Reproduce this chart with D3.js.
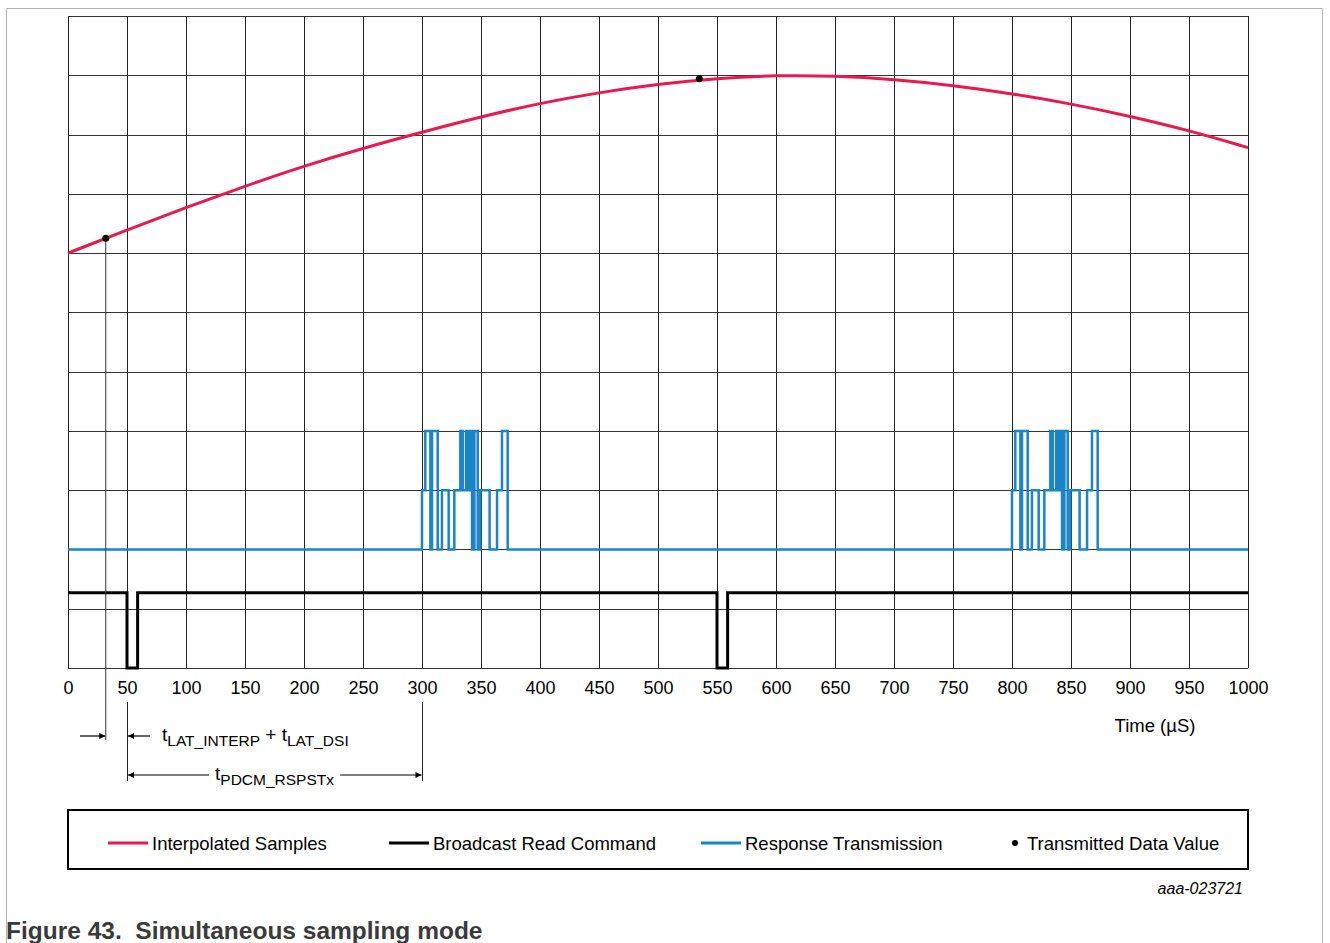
<!DOCTYPE html>
<html>
<head>
<meta charset="utf-8">
<script src="https://cdn.jsdelivr.net/npm/d3@7"></script>
<style>
body { margin: 0; background: #fff; }
text { font-family: "Liberation Sans", Arial, sans-serif; }
</style>
</head>
<body>
<div id="chart"></div>
<script>
var width = 1330;
var height = 943;

// axis ticks (time, µS) and horizontal grid rows
var xTicks = [0, 50, 100, 150, 200, 250, 300, 350, 400, 450, 500, 550, 600, 650, 700, 750, 800, 850, 900, 950, 1000];
var gridRows = [0, 1, 2, 3, 4, 5, 6, 7, 8, 9, 10, 11];

// interpolated samples (red curve)
var sampleTime  = [0, 50, 100, 150, 200, 250, 300, 350, 400, 450, 500, 550, 600, 650, 700, 750, 800, 850, 900, 950, 1000];
var sampleValue = [7.0, 7.39, 7.77, 8.13, 8.47, 8.77, 9.04, 9.3, 9.53, 9.71, 9.85, 9.95, 10.0, 9.99, 9.93, 9.83, 9.69, 9.52, 9.31, 9.07, 8.78];

// transmitted data values (dots)
var dotTime  = [32, 535];
var dotValue = [7.25, 9.94];

// broadcast read command (black)
var cmdTime  = [0, 50, 59, 550, 559, 1000];
var cmdValue = [1.27, 0, 1.27, 0, 1.27, 1.27];

// response transmission (blue): idle level + two identical bursts
var idleLevel = 2;
var burstStart = [300, 800];
var burstOffset = [0, 2.8, 7.1, 8.5, 13.3, 16.9, 22.6, 27.4, 32.5, 34.5, 37.3, 39, 41, 42.4, 44.4, 47.2, 49.4, 57.3, 63.6, 67.8, 72.6];
var burstLevel  = [3, 4, 2, 4, 2, 3, 2, 3, 4, 3, 4, 3, 4, 2, 4, 2, 3, 2, 3, 4, 2];

var legendNames = ["Interpolated Samples", "Broadcast Read Command", "Response Transmission", "Transmitted Data Value"];
var legendColors = ["#e8194f", "#000", "#1a84c6", "#000"];

var svg = d3.select("#chart").append("svg")
  .attr("width", width)
  .attr("height", height);

var x = d3.scaleLinear().domain([0, 1000]).range([68, 1248]);
var y = d3.scaleLinear().domain([0, 11]).range([668, 16]);

// figure frame
svg.append("path")
  .attr("d", "M6.5,943V8.5H1322.5V943")
  .attr("fill", "none")
  .attr("stroke", "#b4b4b4")
  .attr("stroke-width", 1);

// grid
var grid = svg.append("g");
grid.selectAll("line.v")
  .data(xTicks)
  .join("line")
    .attr("class", "v")
    .attr("x1", d => Math.round(x(d)) + 0.5)
    .attr("x2", d => Math.round(x(d)) + 0.5)
    .attr("y1", y(11))
    .attr("y2", y(0))
    .attr("stroke", "#222")
    .attr("stroke-width", 1);
grid.selectAll("line.h")
  .data(gridRows)
  .join("line")
    .attr("class", "h")
    .attr("x1", x(0))
    .attr("x2", x(1000))
    .attr("y1", d => Math.round(y(d)) + 0.5)
    .attr("y2", d => Math.round(y(d)) + 0.5)
    .attr("stroke", "#333")
    .attr("stroke-width", 1);

// x axis labels
var xAxis = d3.axisBottom(x).tickValues(xTicks).tickFormat(d3.format("d")).tickSize(0).tickPadding(13);
var ax = svg.append("g")
  .attr("transform", "translate(0," + y(0) + ")")
  .call(xAxis);
ax.select(".domain").remove();
ax.selectAll("text")
  .attr("font-family", "Liberation Sans, Arial, sans-serif")
  .attr("font-size", 18)
  .attr("fill", "#000");

svg.append("text")
  .attr("x", 1155)
  .attr("y", 732)
  .attr("text-anchor", "middle")
  .attr("font-size", 18.5)
  .text("Time (µS)");

// red curve
var samples = sampleTime.map((t, i) => [t, sampleValue[i]]);
svg.append("path")
  .datum(samples)
  .attr("fill", "none")
  .attr("stroke", legendColors[0])
  .attr("stroke-width", 3)
  .attr("d", d3.line().x(d => x(d[0])).y(d => y(d[1])).curve(d3.curveBasis));

// black command line
var cmd = cmdTime.map((t, i) => [t, cmdValue[i]]);
svg.append("path")
  .datum(cmd)
  .attr("fill", "none")
  .attr("stroke", "#000")
  .attr("stroke-width", 3)
  .attr("d", d3.line().x(d => x(d[0])).y(d => y(d[1])).curve(d3.curveStepAfter));

// blue response line
var resp = [[0, idleLevel]];
burstStart.forEach(function(s) {
  burstOffset.forEach(function(o, i) {
    resp.push([s + o, burstLevel[i]]);
  });
});
resp.push([1000, idleLevel]);
svg.append("path")
  .datum(resp)
  .attr("fill", "none")
  .attr("stroke", legendColors[2])
  .attr("stroke-width", 2.5)
  .attr("d", d3.line().x(d => x(d[0])).y(d => y(d[1])).curve(d3.curveStepAfter));

// annotation lines
var annY1 = 736, annY2 = 775;
svg.append("line")
  .attr("x1", x(dotTime[0])).attr("x2", x(dotTime[0]))
  .attr("y1", y(dotValue[0])).attr("y2", 740)
  .attr("stroke", "#333").attr("stroke-width", 1);
[50, 300].forEach(function(t) {
  svg.append("line")
    .attr("x1", Math.round(x(t)) + 0.5).attr("x2", Math.round(x(t)) + 0.5)
    .attr("y1", 702).attr("y2", 781)
    .attr("stroke", "#222").attr("stroke-width", 1);
});

// dots
svg.selectAll("circle.dot")
  .data(dotTime)
  .join("circle")
    .attr("class", "dot")
    .attr("cx", d => x(d))
    .attr("cy", (d, i) => y(dotValue[i]))
    .attr("r", 3.5)
    .attr("fill", "#000");

// arrows
var defs = svg.append("defs");
defs.append("marker")
  .attr("id", "arr")
  .attr("viewBox", "0 0 10 10")
  .attr("refX", 10).attr("refY", 5)
  .attr("markerWidth", 11).attr("markerHeight", 6)
  .attr("markerUnits", "userSpaceOnUse")
  .attr("orient", "auto")
  .append("path").attr("d", "M0,0L10,5L0,10z").attr("fill", "#000");

function arrow(x1, x2, yy) {
  svg.append("line")
    .attr("x1", x1).attr("x2", x2)
    .attr("y1", yy).attr("y2", yy)
    .attr("stroke", "#000").attr("stroke-width", 1.2)
    .attr("marker-end", "url(#arr)");
}

function subText(xx, yy, parts, anchor) {
  var t = svg.append("text")
    .attr("x", xx).attr("y", yy)
    .attr("font-size", 19)
    .attr("text-anchor", anchor || "start");
  parts.forEach(function(p) {
    if (p.sub) {
      t.append("tspan").attr("font-size", 15.5).attr("dy", 5).text(p.s);
    } else {
      t.append("tspan").attr("dy", p.after ? -5 : 0).text(p.s);
    }
  });
  return t;
}

arrow(80, x(dotTime[0]) - 0.5, annY1);
arrow(150, x(50) + 1, annY1);
subText(162, annY1 + 5, [
  {s: "t"}, {s: "LAT_INTERP", sub: true}, {s: "\u00a0+\u00a0", after: true}, {s: "t"}, {s: "LAT_DSI", sub: true}
]);

var t2 = subText((x(50) + x(300)) / 2, annY2 + 5, [{s: "t"}, {s: "PDCM_RSPSTx", sub: true}], "middle");
var bb = t2.node().getBBox();
arrow(bb.x - 6, x(50) + 1, annY2);
arrow(bb.x + bb.width + 6, x(300) - 0.5, annY2);

// legend
svg.append("rect")
  .attr("x", 68).attr("y", 810)
  .attr("width", 1180).attr("height", 59)
  .attr("fill", "none")
  .attr("stroke", "#000")
  .attr("stroke-width", 2);

var legX = [108, 389, 701, 1015];
var legY = 843;
var leg = svg.append("g");
legendNames.forEach(function(name, i) {
  var g = leg.append("g").attr("transform", "translate(" + legX[i] + "," + legY + ")");
  if (i < 3) {
    g.append("line").attr("x1", 0).attr("x2", 40).attr("y1", 0).attr("y2", 0)
      .attr("stroke", legendColors[i]).attr("stroke-width", 3);
    g.append("text").attr("x", 44).attr("y", 6.5).attr("font-size", 18.5).text(name);
  } else {
    g.append("circle").attr("cx", 0).attr("cy", 0).attr("r", 3).attr("fill", "#000");
    g.append("text").attr("x", 12).attr("y", 6.5).attr("font-size", 18.5).text(name);
  }
});

svg.append("text")
  .attr("x", 1243).attr("y", 894)
  .attr("text-anchor", "end")
  .attr("font-size", 16)
  .attr("font-style", "italic")
  .text("aaa-023721");

svg.append("text")
  .attr("x", 6).attr("y", 939)
  .attr("font-size", 24.5)
  .attr("font-weight", "bold")
  .attr("fill", "#3a3a3a")
  .style("white-space", "pre")
  .text("Figure 43.  Simultaneous sampling mode");
</script>
</body>
</html>
